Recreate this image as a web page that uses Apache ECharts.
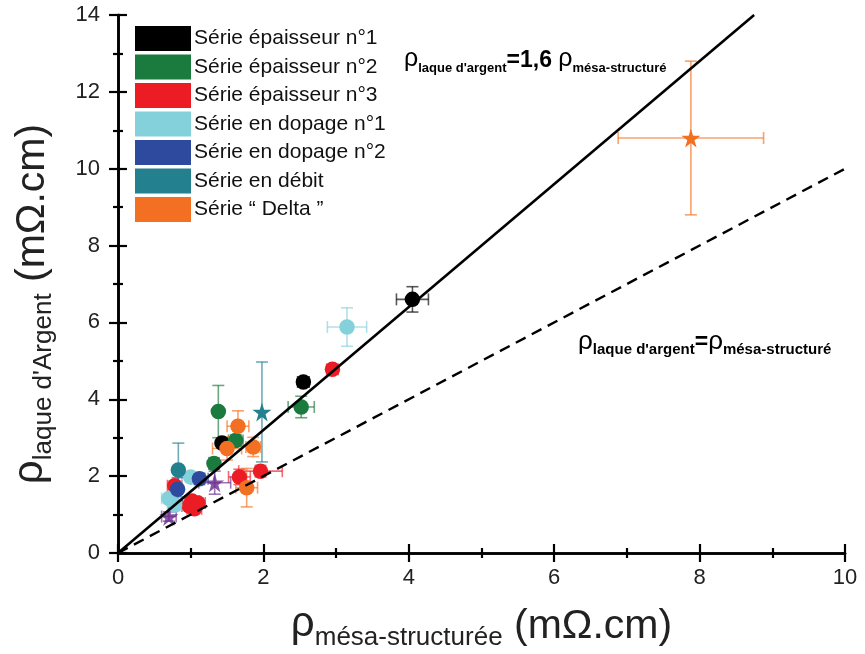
<!DOCTYPE html>
<html><head><meta charset="utf-8">
<script src="https://cdn.jsdelivr.net/npm/echarts@6/dist/echarts.min.js"></script>
<style>html,body{margin:0;padding:0;background:#fff}#c{width:865px;height:654px}</style>
</head><body><div id="c"></div>
<script>
// ---- data ----
const names = ["Série épaisseur n°1","Série épaisseur n°2","Série épaisseur n°3","Série en dopage n°1","Série en dopage n°2","Série en débit","Série \u201C Delta \u201D"];
// black
const s1X=[4.05,2.55,1.43], s1Y=[6.6,4.45,2.86], s1Xe=[0.22,0.08,0.05], s1Ye=[0.33,0.1,0.05];
// green
const s2X=[1.38,2.52,1.62,1.32], s2Y=[3.68,3.8,2.93,2.33], s2Xe=[0.05,0.18,0.1,0.05], s2Ye=[0.68,0.28,0.15,0.15];
// red
const s3X=[2.95,1.96,1.67,0.78,1.02,1.1,1.05,0.98], s3Y=[4.78,2.13,1.98,1.75,1.35,1.3,1.15,1.22];
const s3Xe=[0.08,0.3,0.15,0.1,0.1,0.1,0.1,0.1], s3Ye=[0.1,0.15,0.2,0.1,0.1,0.1,0.1,0.1];
// light cyan
const s4X=[3.15,1.0,0.7,0.78], s4Y=[5.88,1.98,1.42,1.25], s4Xe=[0.27,0.12,0.1,0.1], s4Ye=[0.5,0.12,0.1,0.15];
// blue
const s5X=[1.12,0.82], s5Y=[1.93,1.66], s5Xe=[0.12,0.05], s5Ye=[0.15,0.3];
// teal (circle) + teal star
const s6X=[0.83], s6Y=[2.16], s6Xe=[0.03], s6Ye=[0.7];
const s6StarX=[1.98], s6StarY=[3.67], s6StarXe=[0.02], s6StarYe=[1.3];
// orange circles + orange star
const s7X=[1.65,1.5,1.86,1.77], s7Y=[3.3,2.72,2.76,1.7], s7Xe=[0.15,0.2,0.1,0.15], s7Ye=[0.4,0.3,0.25,0.5];
const s7StarX=[7.88], s7StarY=[10.8], s7StarXe=[1.0], s7StarYe=[2.0];
// purple stars (no legend entry)
const pStarX=[1.33,0.7], pStarY=[1.83,0.95], pStarXe=[0.22,0.1], pStarYe=[0.3,0.12];
// reference lines
const lineFitX=[0,8.75], lineFitY=[0,14];
const lineEqX=[0,10], lineEqY=[0,10];
const xTicks=[0,2,4,6,8,10], yTicks=[0,2,4,6,8,10,12,14];

const colors=['#000000','#1B7A3D','#EC1C24','#84D1DB','#2D4A9F','#22808F','#F36F21'];
const purple='#6A2C8E';
const STAR='path://M50,0 L61,35 L98,35 L68,57 L79,91 L50,70 L21,91 L32,57 L2,35 L39,35 Z';

function zip(X,Y,Xe,Ye){return X.map((x,i)=>[x,Y[i],Xe[i],Ye[i]]);}
function errSeries(data,color){
  return {type:'custom',z:2,silent:true,data:data,encode:{x:0,y:1},
    renderItem:function(params,api){
      const x=api.value(0),y=api.value(1),xe=api.value(2),ye=api.value(3);
      const l=api.coord([x-xe,y]),r=api.coord([x+xe,y]),t=api.coord([x,y+ye]),b=api.coord([x,y-ye]);
      const cap=6, st={stroke:color,lineWidth:1.6,opacity:0.65};
      const ch=[];
      const L=(x1,y1,x2,y2)=>ch.push({type:'line',shape:{x1,y1,x2,y2},style:st});
      if(xe>0.04){L(l[0],l[1],r[0],r[1]);L(l[0],l[1]-cap,l[0],l[1]+cap);L(r[0],r[1]-cap,r[0],r[1]+cap);}
      if(ye>0.04){L(t[0],t[1],b[0],b[1]);L(t[0]-cap,t[1],t[0]+cap,t[1]);L(b[0]-cap,b[1],b[0]+cap,b[1]);}
      return {type:'group',children:ch};
    }};
}
function scat(name,X,Y,color,starX,starY){
  const d=X.map((x,i)=>[x,Y[i]]);
  if(starX) starX.forEach((x,i)=>d.push({value:[x,starY[i]],symbol:STAR,symbolSize:19}));
  return {type:'scatter',name:name,z:3,symbol:'circle',symbolSize:15.5,itemStyle:{color:color,opacity:1},data:d};
}

const series=[];
const groups=[
 [s1X,s1Y,s1Xe,s1Ye],[s2X,s2Y,s2Xe,s2Ye],[s3X,s3Y,s3Xe,s3Ye],
 [s4X,s4Y,s4Xe,s4Ye],[s5X,s5Y,s5Xe,s5Ye]];
groups.forEach((g,i)=>{series.push(errSeries(zip(g[0],g[1],g[2],g[3]),colors[i]));});
series.push(errSeries(zip(s6X,s6Y,s6Xe,s6Ye).concat(zip(s6StarX,s6StarY,s6StarXe,s6StarYe)),colors[5]));
series.push(errSeries(zip(s7X,s7Y,s7Xe,s7Ye).concat(zip(s7StarX,s7StarY,s7StarXe,s7StarYe)),colors[6]));
series.push(errSeries(zip(pStarX,pStarY,pStarXe,pStarYe),purple));
groups.forEach((g,i)=>series.push(scat(names[i],g[0],g[1],colors[i])));
series.push(scat(names[5],s6X,s6Y,colors[5],s6StarX,s6StarY));
series.push(scat(names[6],s7X,s7Y,colors[6],s7StarX,s7StarY));
series.push({type:'scatter',name:'purple',z:3,symbol:STAR,symbolSize:19,itemStyle:{color:purple},data:pStarX.map((x,i)=>[x,pStarY[i]])});
series.push({type:'line',z:4,silent:true,showSymbol:false,symbol:'none',lineStyle:{color:'#000',width:2.6},data:lineFitX.map((x,i)=>[x,lineFitY[i]])});
series.push({type:'line',z:4,silent:true,showSymbol:false,symbol:'none',lineStyle:{color:'#000',width:2.4,type:[11,7]},data:lineEqX.map((x,i)=>[x,lineEqY[i]])});

const FF="'Liberation Sans',Arial,sans-serif";
const axLine={show:true,lineStyle:{color:'#000',width:2.6}};
const tick={show:true,inside:true,length:9,lineStyle:{color:'#000',width:2.2}};
const mtick={show:true,splitNumber:2,length:5,lineStyle:{color:'#000',width:2.2}};
const lblStyle={fontSize:22,color:'#222',fontFamily:'Liberation Sans, Arial'};
const richName={r:{fontSize:42,fontFamily:FF,color:'#222',verticalAlign:'top',lineHeight:48},
     s:{fontSize:26,fontFamily:FF,color:'#222',verticalAlign:'bottom',lineHeight:28,padding:[24,0,0,0]},
     u:{fontSize:41,fontFamily:FF,color:'#222',lineHeight:48}};

const opt={
 backgroundColor:'#fff',animation:false,
 grid:{left:118,right:20,top:15,bottom:101,containLabel:false,outerBoundsMode:'none'},
 legend:{data:names,orient:'vertical',left:130,top:21,icon:'rect',itemWidth:56,itemHeight:25,itemGap:3.5,
   textStyle:{fontSize:21,color:'#111',fontFamily:'Liberation Sans, Arial',padding:[0,0,0,-2]},selectedMode:false},
 xAxis:[{type:'value',min:0,max:10,interval:2,position:'bottom',axisLine:axLine,axisTick:tick,minorTick:mtick,splitLine:{show:false},
   axisLabel:Object.assign({margin:14,formatter:v=>xTicks.includes(v)?String(v):''},lblStyle),
   name:'{r|ρ}{s|mésa-structurée}{u| (mΩ.cm)}',nameLocation:'middle',nameGap:50,
   nameTextStyle:{fontFamily:FF,rich:richName}},
  {type:'value',min:0,max:10,interval:2,position:'top',axisLine:axLine,axisTick:tick,minorTick:mtick,splitLine:{show:false},axisLabel:{show:false}}],
 yAxis:[{type:'value',min:0,max:14,interval:2,position:'left',axisLine:axLine,axisTick:tick,minorTick:mtick,splitLine:{show:false},
   axisLabel:Object.assign({margin:18,formatter:v=>yTicks.includes(v)?String(v):''},lblStyle),
   name:'{r|ρ}{s|laque d\'Argent}{u| (mΩ.cm)}',nameLocation:'middle',nameGap:61,nameRotate:90,
   nameTextStyle:{fontFamily:FF,padding:[0,0,0,-40],rich:richName}},
  {type:'value',min:0,max:14,interval:2,position:'right',axisLine:axLine,axisTick:tick,minorTick:mtick,splitLine:{show:false},axisLabel:{show:false}}],
 graphic:[
  {type:'text',left:404,top:46,z:10,style:{text:'{r|ρ}{s|laque d\'argent}{b|=1,6 }{r|ρ}{s|mésa-structuré}',
    rich:{r:{fontSize:25,fontFamily:'Liberation Sans',fill:'#000',lineHeight:28,verticalAlign:'top'},
      s:{fontSize:13,fontWeight:'bold',fontFamily:'Liberation Sans',fill:'#000',lineHeight:13,padding:[16,0,0,0],verticalAlign:'bottom'},
      b:{fontSize:23,fontWeight:'bold',fontFamily:'Liberation Sans',fill:'#000',lineHeight:28}}}},
  {type:'text',left:578,top:326,z:10,style:{text:'{r|ρ}{s|laque d\'argent}{b|=}{r|ρ}{s|mésa-structuré}',
    rich:{r:{fontSize:26,fontFamily:'Liberation Sans',fill:'#000',lineHeight:28,verticalAlign:'top'},
      s:{fontSize:15,fontWeight:'bold',fontFamily:'Liberation Sans',fill:'#000',lineHeight:15,padding:[16,0,0,0],verticalAlign:'bottom'},
      b:{fontSize:23,fontWeight:'bold',fontFamily:'Liberation Sans',fill:'#000',lineHeight:28}}}}
 ],
 series:series
};
const ch=echarts.init(document.getElementById('c'),null,{renderer:'canvas'});
ch.setOption(opt);
</script></body></html>
